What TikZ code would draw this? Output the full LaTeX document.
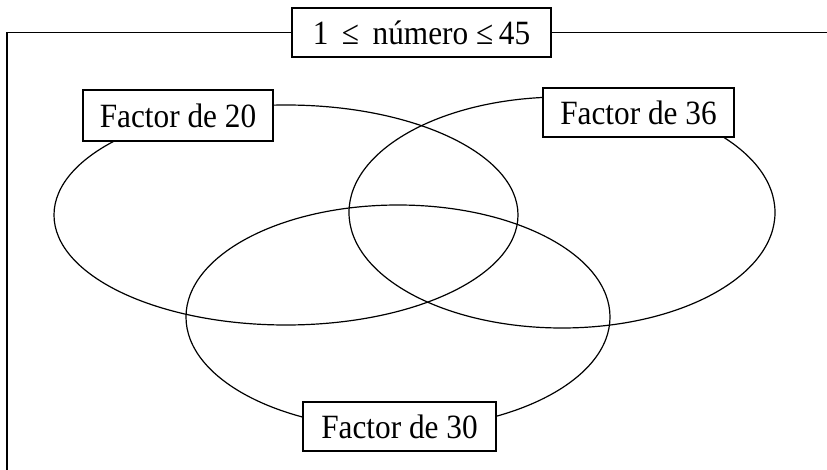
\documentclass[tikz,border=0pt]{standalone}
\usepackage{fontspec}
\setmainfont{Liberation Serif}[FakeStretch=0.92]
\begin{document}
\begin{tikzpicture}[x=1pt,y=-1pt,line width=1.3pt,
  lbl/.style={draw,fill=white,inner sep=0pt,font=\fontsize{34}{40}\selectfont},
  venn/.style={draw,line width=1.2pt}]
\useasboundingbox (0,0) rectangle (827,470);
% ellipses
\draw[venn] (286,215) ellipse [x radius=232pt, y radius=110pt];
\draw[venn] (562,212.5) ellipse [x radius=213pt, y radius=115.5pt];
\draw[venn] (398,317) ellipse [x radius=212pt, y radius=112pt];
% labels
\node[lbl,minimum width=259pt,minimum height=49pt] (title) at (421.5,32.5) {1 \,≤\, número ≤\,45};
\node[lbl,minimum width=190pt,minimum height=51pt] (f20) at (178,115.5) {Factor de 20};
\node[lbl,minimum width=191pt,minimum height=49pt] (f36) at (638.5,112.5) {Factor de 36};
\node[lbl,minimum width=193pt,minimum height=49pt] (f30) at (399.5,426.5) {Factor de 30};
% frame
\coordinate (tl) at (7,32.5);
\coordinate (bl) at (7,470);
\coordinate (tr) at (827,32.5);
\draw (title.west) -- (tl) -- (bl);
\draw (title.east) -- (tr);
\end{tikzpicture}
\end{document}
